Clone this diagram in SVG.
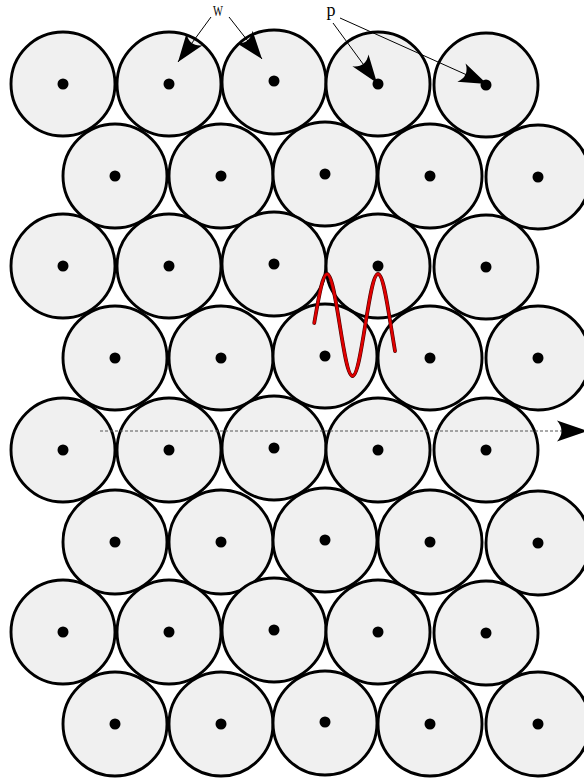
<svg xmlns="http://www.w3.org/2000/svg" width="584" height="778" viewBox="0 0 584 778">
<style>
.c{fill:#f0f0f0;stroke:#000;stroke-width:2.9}
.d{fill:#000}
.ptr{fill:none;stroke:#000;stroke-width:1}
.lbl{font-family:"Liberation Serif",serif;fill:#000}
</style>
<defs>
<marker id="ah" markerUnits="userSpaceOnUse" viewBox="-29 -11 30 22" markerWidth="30" markerHeight="22" refX="0" refY="0" orient="auto">
<path d="M0,0 L-28,-10 Q-19,0 -28,10 Z" fill="#000"/>
</marker>
<marker id="ah2" markerUnits="userSpaceOnUse" viewBox="-33 -12 34 24" markerWidth="34" markerHeight="24" refX="0" refY="0" orient="auto">
<path d="M0,0 L-31,-10.5 Q-22,0 -31,10.5 Z" fill="#000"/>
</marker>
</defs>
<rect width="584" height="778" fill="#fff"/>
<g id="row0">
<g id="n0_0"><circle class="c" cx="63" cy="84" r="52"/><circle class="d" cx="63" cy="84" r="5.5"/></g>
<g id="n0_1"><circle class="c" cx="169" cy="84" r="52"/><circle class="d" cx="169" cy="84" r="5.5"/></g>
<g id="n0_2"><circle class="c" cx="274" cy="82" r="52"/><circle class="d" cx="274" cy="81" r="5.5"/></g>
<g id="n0_3"><circle class="c" cx="378" cy="84" r="52"/><circle class="d" cx="378" cy="84" r="5.5"/></g>
<g id="n0_4"><circle class="c" cx="486" cy="85" r="52"/><circle class="d" cx="486" cy="85" r="5.5"/></g>
</g>
<g id="row1">
<g id="n1_0"><circle class="c" cx="115" cy="176" r="52"/><circle class="d" cx="115" cy="176" r="5.5"/></g>
<g id="n1_1"><circle class="c" cx="221" cy="176" r="52"/><circle class="d" cx="221" cy="176" r="5.5"/></g>
<g id="n1_2"><circle class="c" cx="325" cy="174" r="52"/><circle class="d" cx="325" cy="174" r="5.5"/></g>
<g id="n1_3"><circle class="c" cx="430" cy="176" r="52"/><circle class="d" cx="430" cy="176" r="5.5"/></g>
<g id="n1_4"><circle class="c" cx="538" cy="177" r="52"/><circle class="d" cx="538" cy="177" r="5.5"/></g>
</g>
<g id="row2">
<g id="n2_0"><circle class="c" cx="63" cy="266" r="52"/><circle class="d" cx="63" cy="266" r="5.5"/></g>
<g id="n2_1"><circle class="c" cx="169" cy="266" r="52"/><circle class="d" cx="169" cy="266" r="5.5"/></g>
<g id="n2_2"><circle class="c" cx="274" cy="264" r="52"/><circle class="d" cx="274" cy="264" r="5.5"/></g>
<g id="n2_3"><circle class="c" cx="378" cy="266" r="52"/><circle class="d" cx="378" cy="266" r="5.5"/></g>
<g id="n2_4"><circle class="c" cx="486" cy="267" r="52"/><circle class="d" cx="486" cy="267" r="5.5"/></g>
</g>
<g id="row3">
<g id="n3_0"><circle class="c" cx="115" cy="358" r="52"/><circle class="d" cx="115" cy="358" r="5.5"/></g>
<g id="n3_1"><circle class="c" cx="221" cy="358" r="52"/><circle class="d" cx="221" cy="358" r="5.5"/></g>
<g id="n3_2"><circle class="c" cx="325" cy="356" r="52"/><circle class="d" cx="325" cy="356" r="5.5"/></g>
<g id="n3_3"><circle class="c" cx="430" cy="358" r="52"/><circle class="d" cx="430" cy="358" r="5.5"/></g>
<g id="n3_4"><circle class="c" cx="538" cy="358" r="52"/><circle class="d" cx="538" cy="358" r="5.5"/></g>
</g>
<g id="row4">
<g id="n4_0"><circle class="c" cx="63" cy="450" r="52"/><circle class="d" cx="63" cy="450" r="5.5"/></g>
<g id="n4_1"><circle class="c" cx="169" cy="450" r="52"/><circle class="d" cx="169" cy="450" r="5.5"/></g>
<g id="n4_2"><circle class="c" cx="274" cy="448" r="52"/><circle class="d" cx="274" cy="448" r="5.5"/></g>
<g id="n4_3"><circle class="c" cx="378" cy="450" r="52"/><circle class="d" cx="378" cy="450" r="5.5"/></g>
<g id="n4_4"><circle class="c" cx="486" cy="450" r="52"/><circle class="d" cx="486" cy="450" r="5.5"/></g>
</g>
<g id="row5">
<g id="n5_0"><circle class="c" cx="115" cy="542" r="52"/><circle class="d" cx="115" cy="542" r="5.5"/></g>
<g id="n5_1"><circle class="c" cx="221" cy="542" r="52"/><circle class="d" cx="221" cy="542" r="5.5"/></g>
<g id="n5_2"><circle class="c" cx="325" cy="540" r="52"/><circle class="d" cx="325" cy="540" r="5.5"/></g>
<g id="n5_3"><circle class="c" cx="430" cy="542" r="52"/><circle class="d" cx="430" cy="542" r="5.5"/></g>
<g id="n5_4"><circle class="c" cx="538" cy="543" r="52"/><circle class="d" cx="538" cy="543" r="5.5"/></g>
</g>
<g id="row6">
<g id="n6_0"><circle class="c" cx="63" cy="632" r="52"/><circle class="d" cx="63" cy="632" r="5.5"/></g>
<g id="n6_1"><circle class="c" cx="169" cy="632" r="52"/><circle class="d" cx="169" cy="632" r="5.5"/></g>
<g id="n6_2"><circle class="c" cx="274" cy="630" r="52"/><circle class="d" cx="274" cy="630" r="5.5"/></g>
<g id="n6_3"><circle class="c" cx="378" cy="632" r="52"/><circle class="d" cx="378" cy="632" r="5.5"/></g>
<g id="n6_4"><circle class="c" cx="486" cy="633" r="52"/><circle class="d" cx="486" cy="633" r="5.5"/></g>
</g>
<g id="row7">
<g id="n7_0"><circle class="c" cx="115" cy="724" r="52"/><circle class="d" cx="115" cy="724" r="5.5"/></g>
<g id="n7_1"><circle class="c" cx="221" cy="724" r="52"/><circle class="d" cx="221" cy="724" r="5.5"/></g>
<g id="n7_2"><circle class="c" cx="325" cy="723" r="52"/><circle class="d" cx="325" cy="722" r="5.5"/></g>
<g id="n7_3"><circle class="c" cx="430" cy="724" r="52"/><circle class="d" cx="430" cy="724" r="5.5"/></g>
<g id="n7_4"><circle class="c" cx="538" cy="724" r="52"/><circle class="d" cx="538" cy="724" r="5.5"/></g>
</g>
<g id="labels">
<text class="lbl" font-size="14" text-anchor="middle" transform="translate(218,16) scale(0.75,1)">W</text>
<text class="lbl" font-size="18" text-anchor="middle" x="331" y="16">p</text>
</g>
<g id="connectors">
<line class="ptr" x1="211" y1="17" x2="178" y2="62" marker-end="url(#ah)"/>
<line class="ptr" x1="229" y1="17" x2="262" y2="59" marker-end="url(#ah)"/>
<line class="ptr" x1="333" y1="23" x2="377" y2="83" marker-end="url(#ah)"/>
<line class="ptr" x1="340" y1="18" x2="487" y2="84" marker-end="url(#ah)"/>
<line x1="100" y1="431" x2="588" y2="431" stroke="#555" stroke-width="1.2" stroke-dasharray="3,2" marker-end="url(#ah2)"/>
<g id="wave" fill="none" stroke-linecap="round">
<path stroke="#500000" stroke-width="3.8" d="M314.25,323 C318.41,298.87 322.39,274 327,274 C331.61,274 335.59,298.87 339.75,325 C343.91,351.13 347.89,376 352.5,376 C357.11,376 361.09,351.13 365.25,325 C369.41,298.87 373.39,274 378,274 C382.61,274 386.59,298.87 390.75,325 C392.17,333.9 393.6,342.5 395,351"/>
<path stroke="#e00000" stroke-width="2.5" d="M314.25,323 C318.41,298.87 322.39,274 327,274 C331.61,274 335.59,298.87 339.75,325 C343.91,351.13 347.89,376 352.5,376 C357.11,376 361.09,351.13 365.25,325 C369.41,298.87 373.39,274 378,274 C382.61,274 386.59,298.87 390.75,325 C392.17,333.9 393.6,342.5 395,351"/>
</g>
</g>
</svg>
